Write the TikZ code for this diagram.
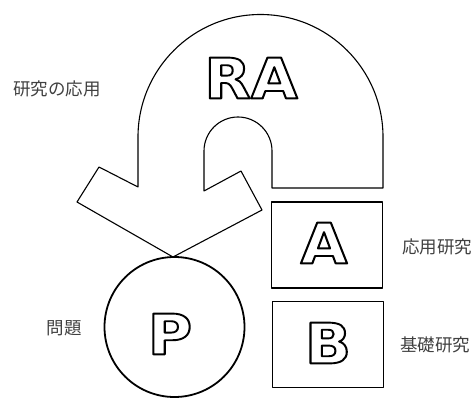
\documentclass[tikz,border=0pt]{standalone}
\usepackage{fontspec}
\newfontfamily\cjk{Noto Sans CJK JP}
\newfontfamily\bigfont{DejaVu Sans}[BoldFont={DejaVu Sans Bold}]
\newcommand{\outlined}[1]{\special{pdf:literal 1 Tr 1.9 w 1 j}#1\special{pdf:literal 0 Tr}}
\begin{document}
\begin{tikzpicture}[x=1pt,y=1pt,
  line/.style={draw=black, line width=1.1pt, line join=round},
  label/.style={font=\cjk\fontsize{17.5}{18}\selectfont, text=black!75, inner sep=0pt},
  hollow/.style={font=\bigfont\bfseries\fontsize{56}{56}\selectfont, inner sep=0pt, xscale=1.08},
  boxed/.style={line, minimum width=111pt, minimum height=86pt, inner sep=0pt}
]
\useasboundingbox (0,0) rectangle (476,397);
% arch arrow
\draw[line] (383,209) -- (383,260) arc[start angle=0, end angle=180, radius=122.5]
  -- (138,210) -- (99,230) -- (77,195) -- (173,140) -- (262,187) -- (241,226)
  -- (204,206) -- (204,246) arc[start angle=180, end angle=0, radius=34]
  -- (272,209) -- cycle;
% circle P
\node[draw=black, line width=1.8pt, circle, minimum size=140pt, inner sep=0pt] (Pc) at (174.5,70) {};
% boxes
\node[boxed] (Abox) at (327,152) {};
\node[boxed] (Bbox) at (328,52.5) {};
% letters
\node[hollow] (RA) at (251,319) {\outlined{RA}};
\node[hollow] (Al) at (324,154) {\outlined{A}};
\node[hollow] (Bl) at (328,54) {\outlined{B}};
\node[hollow] (Pl) at (170,63) {\outlined{P}};
% labels
\node[label] (l1) at (57,308) {研究の応用};
\node[label, anchor=west] (l2) at (402,150) {応用研究};
\node[label, anchor=west] (l3) at (400,52) {基礎研究};
\node[label] (l4) at (64,69) {問題};
\end{tikzpicture}
\end{document}
